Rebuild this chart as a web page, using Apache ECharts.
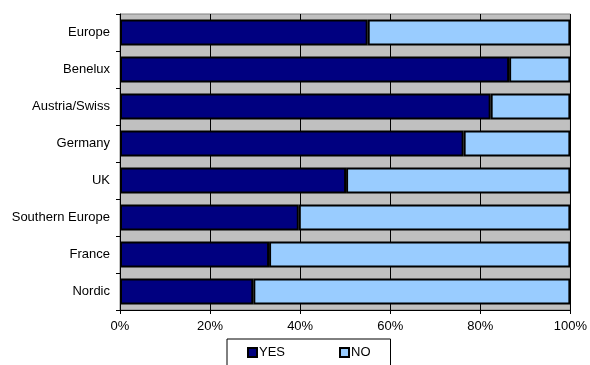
<!DOCTYPE html>
<html>
<head>
<meta charset="utf-8">
<script src="https://cdn.jsdelivr.net/npm/echarts@6/dist/echarts.min.js"></script>
<style>
html,body{margin:0;padding:0;background:#fff;}
#chart{width:590px;height:365px;}
</style>
</head>
<body>
<div id="chart"></div>
<script>
var categories = ["Europe", "Benelux", "Austria/Swiss", "Germany", "UK", "Southern Europe", "France", "Nordic"];
var yesValues = [55, 86.4, 82.3, 76.3, 50.2, 39.7, 33.1, 29.6];
var noValues = [45, 13.6, 17.7, 23.7, 49.8, 60.3, 66.9, 70.4];
var xTicks = [0, 20, 40, 60, 80, 100];

var chart = echarts.init(document.getElementById('chart'), null, {renderer: 'canvas'});
var font = 'Liberation Sans, Arial, sans-serif';
chart.setOption({
  animation: false,
  backgroundColor: '#ffffff',
  textStyle: {fontFamily: font, color: '#000'},
  grid: {
    left: 120, right: 17, top: 14, bottom: 55,
    show: true, backgroundColor: '#C0C0C0', borderColor: '#808080', borderWidth: 1
  },
  legend: {
    left: 227, top: 339,
    padding: [7, 20, 20, 20],
    itemGap: 54,
    itemWidth: 9, itemHeight: 9,
    icon: 'rect',
    borderColor: '#000', borderWidth: 1,
    backgroundColor: '#fff',
    textStyle: {fontFamily: font, fontSize: 13, color: '#000', padding: [0, 0, 0, -3]},
    data: [
      {name: 'YES', itemStyle: {color: '#000080', borderColor: '#000', borderWidth: 2}},
      {name: 'NO', itemStyle: {color: '#99CCFF', borderColor: '#000', borderWidth: 2}}
    ]
  },
  xAxis: {
    type: 'value', min: xTicks[0], max: xTicks[xTicks.length - 1], interval: 20,
    axisLine: {show: true, lineStyle: {color: '#000', width: 1}},
    axisTick: {show: true, length: 4, lineStyle: {color: '#000'}},
    axisLabel: {formatter: '{value}%', fontSize: 13, color: '#000', fontFamily: font, margin: 10},
    splitLine: {show: true, lineStyle: {color: '#000', width: 1}}
  },
  yAxis: {
    type: 'category', data: categories, inverse: true,
    axisLine: {show: true, lineStyle: {color: '#000', width: 1}},
    axisTick: {show: true, length: 4, lineStyle: {color: '#000'}},
    axisLabel: {fontSize: 13, color: '#000', fontFamily: font, margin: 10},
    splitLine: {show: false}
  },
  series: [
    {name: 'YES', type: 'bar', stack: 'all', data: yesValues, barWidth: 26,
     itemStyle: {color: '#000080', borderColor: '#000', borderWidth: 2}},
    {name: 'NO', type: 'bar', stack: 'all', data: noValues, barWidth: 26,
     itemStyle: {color: '#99CCFF', borderColor: '#000', borderWidth: 2}}
  ]
});
</script>
</body>
</html>
